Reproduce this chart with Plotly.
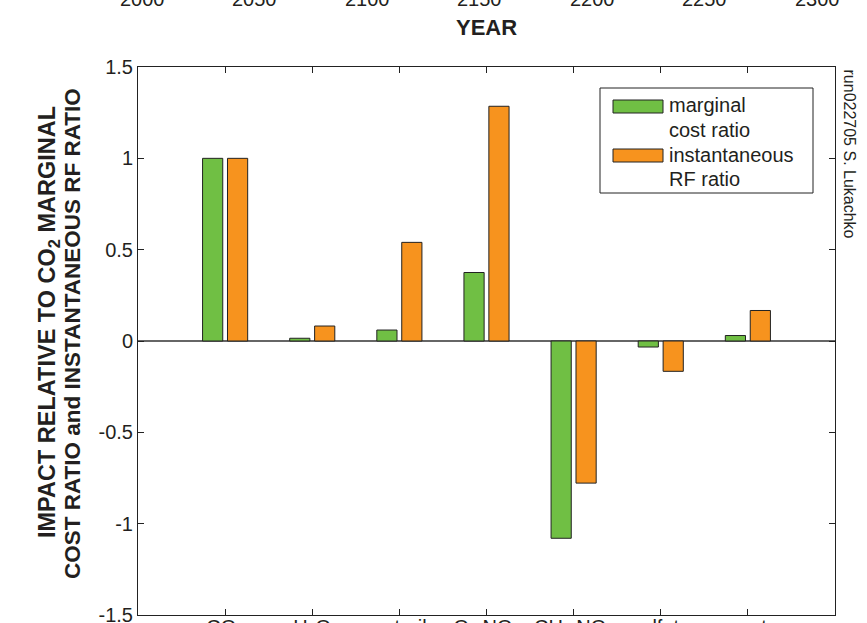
import plotly.graph_objects as go

# ---- data ----
categories = ["CO<sub>2</sub>", "H<sub>2</sub>O", "contrails", "O<sub>3</sub> NO<sub>x</sub>",
              "CH<sub>4</sub> NO<sub>x</sub>", "sulfate", "soot"]
marginal_cost_ratio = [1.0, 0.015, 0.06, 0.375, -1.08, -0.033, 0.03]
instantaneous_rf_ratio = [1.0, 0.082, 0.54, 1.285, -0.778, -0.166, 0.167]
y_tick_vals = [-1.5, -1, -0.5, 0, 0.5, 1, 1.5]
y_tick_text = ["-1.5", "-1", "-0.5", "0", "0.5", "1", "1.5"]
year_ticks = [2000, 2050, 2100, 2150, 2200, 2250, 2300]
y_title_lines = ["IMPACT RELATIVE TO CO<sub>2</sub> MARGINAL",
                 "COST RATIO and INSTANTANEOUS RF RATIO"]

GREEN = "#70bf44"
ORANGE = "#f7931e"
FONT = "Liberation Sans, Arial, Helvetica, sans-serif"
INK = "#231f20"

W, H = 867, 623
L, R, T, B = 138, 32, 67, 8
PW, PH = W - L - R, H - T - B


def px(x):
    return (x - L) / PW


def py(y):
    return (H - B - y) / PH


xpos = list(range(1, len(categories) + 1))

fig = go.Figure()
fig.add_trace(go.Bar(x=xpos, y=marginal_cost_ratio, name="marginal<br>cost ratio",
                     marker=dict(color=GREEN, line=dict(color="#222222", width=1)),
                     showlegend=False))
fig.add_trace(go.Bar(x=xpos, y=instantaneous_rf_ratio, name="instantaneous<br>RF ratio",
                     marker=dict(color=ORANGE, line=dict(color="#222222", width=1)),
                     showlegend=False))
# invisible helper trace carrying the upper (cropped) year axis
fig.add_trace(go.Scatter(x=[year_ticks[0], year_ticks[-1]], y=[0, 0], xaxis="x2",
                         mode="none", showlegend=False, hoverinfo="skip"))

annotations = []
# cropped year tick labels and title of the chart above
for yr in year_ticks:
    annotations.append(dict(x=yr, xref="x2", y=py(-1), yref="paper", text=str(yr),
                            showarrow=False, xanchor="center", yanchor="middle",
                            font=dict(family=FONT, size=20, color=INK)))
annotations.append(dict(x=0.5, xref="paper", y=py(27), yref="paper", text="<b>YEAR</b>",
                        showarrow=False, xanchor="center", yanchor="middle",
                        font=dict(family=FONT, size=22, color=INK)))
# y-axis title (two lines)
for txt, cx, cy, fs in [(y_title_lines[0], 48, 322, 23.5), (y_title_lines[1], 72, 334, 22.5)]:
    annotations.append(dict(x=px(cx), xref="paper", y=py(cy), yref="paper",
                            text="<b>" + txt + "</b>",
                            textangle=-90, showarrow=False, xanchor="center", yanchor="middle",
                            font=dict(family=FONT, size=fs, color=INK)))
# side note
annotations.append(dict(x=px(849), xref="paper", y=py(67), yref="paper",
                        text="run022705 S. Lukachko", textangle=90, showarrow=False,
                        xanchor="center", yanchor="top",
                        font=dict(family=FONT, size=16, color=INK)))
# legend text
legend_lines = [("marginal", 105), ("cost ratio", 130), ("instantaneous", 155), ("RF ratio", 179)]
for txt, yy in legend_lines:
    annotations.append(dict(x=px(667), xref="paper", y=py(yy), yref="paper", text=txt,
                            showarrow=False, xanchor="left", yanchor="middle",
                            font=dict(family=FONT, size=20, color=INK)))

shapes = [
    dict(type="rect", xref="paper", yref="paper", x0=px(600), x1=px(813), y0=py(193), y1=py(88),
         line=dict(color="#222222", width=1), fillcolor="white", layer="above"),
    dict(type="rect", xref="paper", yref="paper", x0=px(613), x1=px(663), y0=py(113), y1=py(100),
         line=dict(color="#222222", width=1), fillcolor=GREEN, layer="above"),
    dict(type="rect", xref="paper", yref="paper", x0=px(613), x1=px(663), y0=py(162), y1=py(149),
         line=dict(color="#222222", width=1), fillcolor=ORANGE, layer="above"),
]

fig.update_layout(
    template="none",
    width=W, height=H,
    margin=dict(l=L, r=R, t=T, b=B, pad=0),
    paper_bgcolor="white", plot_bgcolor="white",
    barmode="group", bargap=0.428, bargroupgap=0.19,
    showlegend=False,
    font=dict(family=FONT, size=20, color=INK),
    xaxis=dict(range=[0, 8], tickvals=xpos, ticktext=categories, ticks="inside", ticklen=6,
               tickcolor="#222222", showline=True, linecolor="#222222", linewidth=1,
               mirror="ticks", showgrid=False, zeroline=False, automargin=False,
               ticklabeloverflow="allow", ticklabelstandoff=-6,
               tickfont=dict(family=FONT, size=20, color=INK)),
    xaxis2=dict(range=[1998, 2308], overlaying="x", visible=False, showgrid=False),
    yaxis=dict(range=[-1.5, 1.5], tickvals=y_tick_vals, ticktext=y_tick_text, ticks="inside",
               ticklen=6, tickcolor="#222222", showline=True, linecolor="#222222", linewidth=1,
               mirror="ticks", showgrid=False, zeroline=True, zerolinecolor="#666666",
               zerolinewidth=1.5, automargin=False, ticklabeloverflow="allow",
               tickfont=dict(family=FONT, size=20, color=INK)),
    annotations=annotations,
    shapes=shapes,
)

fig.write_html("out.html", config={"displayModeBar": False},
               post_script="document.body.style.margin='0';document.body.style.overflow='hidden';")
